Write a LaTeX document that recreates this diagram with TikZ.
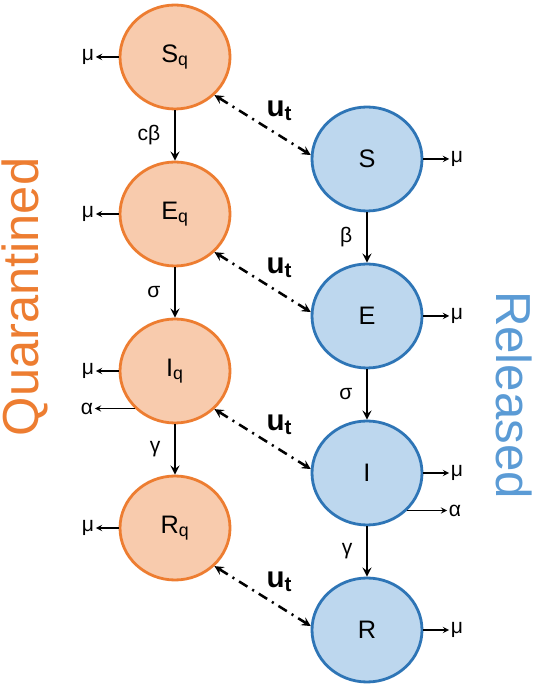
\documentclass[tikz,border=0pt]{standalone}
\usepackage{fontspec}
\setmainfont{Liberation Sans}
\usepackage{tikz}
\usetikzlibrary{arrows,shapes,positioning}
\usepackage{xcolor}
\definecolor{qorange}{RGB}{237,125,49}
\definecolor{qorangelight}{RGB}{248,203,173}
\definecolor{rblue}{RGB}{46,117,182}
\definecolor{rbluelight}{RGB}{189,215,238}
\definecolor{rbluetext}{RGB}{91,155,213}
\tikzstyle{arrow} = [line width=1.8pt,->,>=stealth]
\tikzstyle{loss} = [line width=1pt,->,>=stealth]
\tikzstyle{swap} = [line width=1.8pt,<->,>=stealth,dash pattern=on 7pt off 4pt on 1.5pt off 4pt]
\tikzstyle{quarantined} = [ellipse, minimum width=2.75cm, minimum height=2.6cm, draw=qorange, fill=qorangelight, line width=2pt, font=\fontsize{18}{21}\selectfont]
\tikzstyle{released} = [ellipse, minimum width=2.75cm, minimum height=2.6cm, draw=rblue, fill=rbluelight, line width=2pt, font=\fontsize{18}{21}\selectfont]
\tikzstyle{rate} = [font=\fontsize{15}{17}\selectfont, inner sep=1pt]
\tikzstyle{utlabel} = [font=\fontsize{21}{24}\selectfont, inner sep=2pt]
\tikzstyle{side} = [inner sep=0pt]

\begin{document}
\begin{tikzpicture}
\useasboundingbox (0,0) rectangle (13.4,17.175);
% Quarantined compartments
\node (sq) [quarantined] at (4.375,15.75) {S\textsubscript{q}};
\node (eq) [quarantined, below of=sq, node distance=3.925cm] {E\textsubscript{q}};
\node (iq) [quarantined, below of=eq, node distance=3.925cm] {I\textsubscript{q}};
\node (rq) [quarantined, below of=iq, node distance=3.925cm] {R\textsubscript{q}};

% Released compartments
\node (s) [released] at (9.175,13.2) {S};
\node (e) [released, below of=s, node distance=3.925cm] {E};
\node (i) [released, below of=e, node distance=3.925cm] {I};
\node (r) [released, below of=i, node distance=3.925cm] {R};

% Transitions
\draw[arrow] (sq) -- node[rate, left=0.3cm] {cβ} (eq);
\draw[arrow] (eq) -- node[rate, left=0.3cm] {σ} (iq);
\draw[arrow] (iq) -- node[rate, left=0.3cm] {γ} (rq);
\draw[arrow] (s) -- node[rate, left=0.3cm] {β} (e);
\draw[arrow] (e) -- node[rate, left=0.3cm] {σ} (i);
\draw[arrow] (i) -- node[rate, left=0.3cm] {γ} (r);

% Death rates
\node (musq) [rate, left of=sq, node distance=2.175cm] {μ};
\node (mueq) [rate, left of=eq, node distance=2.175cm] {μ};
\node (muiq) [rate, left of=iq, node distance=2.175cm] {μ};
\node (murq) [rate, left of=rq, node distance=2.175cm] {μ};
\node (mus) [rate, right of=s, node distance=2.25cm] {μ};
\node (mue) [rate, right of=e, node distance=2.25cm] {μ};
\node (mui) [rate, right of=i, node distance=2.25cm] {μ};
\node (mur) [rate, right of=r, node distance=2.25cm] {μ};
\draw[loss] (sq) -- (musq);
\draw[loss] (eq) -- (mueq);
\draw[loss] (iq) -- (muiq);
\draw[loss] (rq) -- (murq);
\draw[loss] (s) -- (mus);
\draw[loss] (e) -- (mue);
\draw[loss] (i) -- (mui);
\draw[loss] (r) -- (mur);

% Disease deaths
\node (aliq) [rate, left=1.0cm of iq.223] {α};
\node (ali) [rate, right=1.0cm of i.317] {α};
\draw[loss] (iq.223) -- (aliq);
\draw[loss] (i.317) -- (ali);

% Quarantine release
\draw[swap] (sq.316) -- node[utlabel, above right] {\textbf{u\textsubscript{t}}} (s.176);
\draw[swap] (eq.316) -- node[utlabel, above right] {\textbf{u\textsubscript{t}}} (e.176);
\draw[swap] (iq.316) -- node[utlabel, above right] {\textbf{u\textsubscript{t}}} (i.176);
\draw[swap] (rq.316) -- node[utlabel, above right] {\textbf{u\textsubscript{t}}} (r.176);

% Group labels
\node (quar) [side, text=qorange, rotate=90, font=\fontsize{36}{40}\selectfont] at (0.62,9.75) {Quarantined};
\node (rel) [side, text=rbluetext, rotate=-90, font=\fontsize{35}{38}\selectfont] at (12.85,7.3) {Released};
\end{tikzpicture}
\end{document}
